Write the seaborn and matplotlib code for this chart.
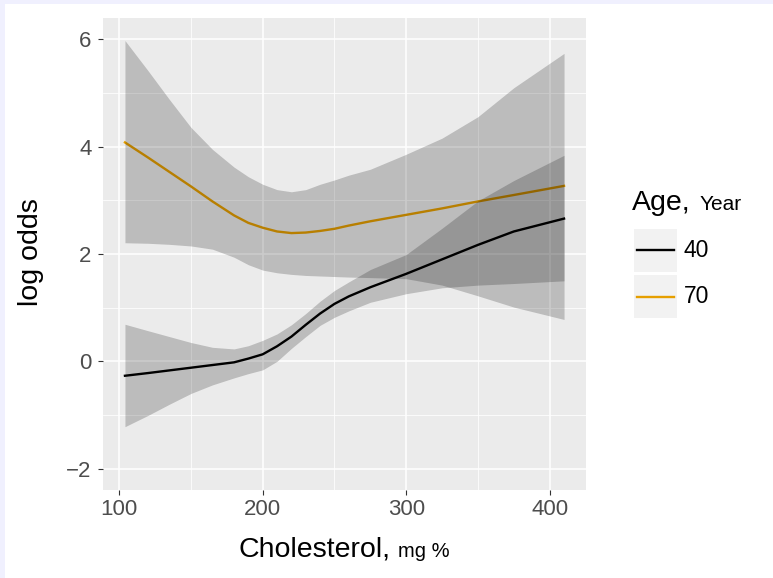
import numpy as np
import pandas as pd
import matplotlib
matplotlib.use("Agg")
import matplotlib.pyplot as plt
import seaborn as sns
from matplotlib.patches import Rectangle
from matplotlib.lines import Line2D

# ---- data ----
cholesterol = [104, 120, 135, 150, 165, 180, 190, 200, 210, 220, 230, 240,
               250, 260, 275, 300, 325, 350, 375, 410]
fit_40 = [-0.27, -0.22, -0.17, -0.12, -0.07, -0.02, 0.05, 0.13, 0.28, 0.46,
          0.68, 0.89, 1.07, 1.21, 1.38, 1.63, 1.90, 2.17, 2.42, 2.66]
upper_40 = [0.69, 0.57, 0.46, 0.35, 0.26, 0.23, 0.29, 0.39, 0.51, 0.68,
            0.89, 1.12, 1.32, 1.48, 1.71, 1.99, 2.48, 2.99, 3.37, 3.84]
lower_40 = [-1.22, -1.01, -0.80, -0.60, -0.44, -0.31, -0.23, -0.16, 0.00, 0.24,
            0.46, 0.67, 0.82, 0.94, 1.10, 1.26, 1.37, 1.42, 1.45, 1.50]
fit_70 = [4.08, 3.80, 3.53, 3.26, 2.98, 2.72, 2.58, 2.49, 2.42, 2.39,
          2.40, 2.43, 2.47, 2.53, 2.61, 2.73, 2.85, 2.98, 3.10, 3.27]
upper_70 = [5.98, 5.42, 4.88, 4.36, 3.95, 3.62, 3.44, 3.30, 3.20, 3.16,
            3.20, 3.30, 3.38, 3.47, 3.58, 3.86, 4.16, 4.56, 5.10, 5.74]
lower_70 = [2.21, 2.20, 2.18, 2.15, 2.09, 1.94, 1.80, 1.70, 1.65, 1.62,
            1.60, 1.59, 1.58, 1.57, 1.56, 1.54, 1.42, 1.22, 1.01, 0.78]
ages = ["40", "70"]
age_colors = {"40": "#000000", "70": "#E69F00"}
x_ticks = [100, 200, 300, 400]
y_ticks = [-2, 0, 2, 4, 6]

df = pd.DataFrame({
    "chol": cholesterol * 2,
    "logodds": fit_40 + fit_70,
    "Age": ["40"] * len(cholesterol) + ["70"] * len(cholesterol),
})

# ---- figure ----
W, H = 773, 578
fig = plt.figure(figsize=(W / 100, H / 100), dpi=100)
fig.patch.set_facecolor("white")
FONT = ["Liberation Sans", "DejaVu Sans"]
plt.rcParams["font.family"] = FONT

def px(x, y):
    return x / W, 1 - y / H

# lavender screenshot border
border = "#F0F0FE"
fig.patches.append(Rectangle((0, 1 - 4 / H), 1, 4 / H, transform=fig.transFigure,
                             facecolor=border, edgecolor="none", zorder=0))
fig.patches.append(Rectangle((0, 0), 5 / W, 1, transform=fig.transFigure,
                             facecolor=border, edgecolor="none", zorder=0))

L, R, T, B = 103, 586, 18, 490
ax = fig.add_axes([L / W, 1 - B / H, (R - L) / W, (B - T) / H])
ax.set_facecolor("#EBEBEB")

sns.lineplot(data=df, x="chol", y="logodds", hue="Age", palette=age_colors,
             hue_order=ages, linewidth=1.7, legend=False, ax=ax, zorder=2,
             estimator=None, sort=True)
for ln in ax.lines:
    ln.set_solid_joinstyle("round")
ax.fill_between(cholesterol, lower_40, upper_40, color="black", alpha=0.2,
                linewidth=0, zorder=3)
ax.fill_between(cholesterol, lower_70, upper_70, color="black", alpha=0.2,
                linewidth=0, zorder=3)

ax.set_xlim(88.7, 425.3)
ax.set_ylim(-2.4, 6.4)
ax.set_xticks(x_ticks)
ax.set_yticks(y_ticks)
ax.set_xticks([150, 250, 350], minor=True)
ax.set_yticks([-1, 1, 3, 5], minor=True)
ax.set_yticklabels([str(v).replace("-", "\u2212") for v in y_ticks])
ax.set_xticklabels([str(v) for v in x_ticks])
ax.set_axisbelow(True)
ax.grid(which="major", color="white", linewidth=1.15)
ax.grid(which="minor", color="white", linewidth=0.55)
for s in ax.spines.values():
    s.set_visible(False)
ax.tick_params(which="major", length=3.6, width=0.8, color="#333333",
               labelcolor="#4D4D4D", labelsize=16)
ax.tick_params(axis="x", pad=3)
ax.tick_params(axis="y", pad=4.5)
ax.tick_params(which="minor", length=0)
ax.set_xlabel("")
ax.set_ylabel("")

# axis titles
fig.text(*px(391, 557), "Cholesterol,", ha="right", va="baseline", fontsize=20.5,
         color="black")
fig.text(*px(398, 557), "mg %", ha="left", va="baseline", fontsize=14.5,
         color="black")
fig.text(*px(31, 252), "log odds", ha="center", va="center", rotation=90,
         fontsize=20.5, color="black")

# legend
fig.text(*px(632, 210), "Age,", ha="left", va="baseline", fontsize=20.5)
fig.text(*px(700, 210), "Year", ha="left", va="baseline", fontsize=15)
key_tops = [229, 275]
for age, top in zip(ages, key_tops):
    x0, y0 = px(634, top + 43)
    fig.patches.append(Rectangle((x0, y0), 43 / W, 43 / H, transform=fig.transFigure,
                                 facecolor="#F2F2F2", edgecolor="none"))
    cy = top + 21.5
    fig.lines.append(Line2D([637 / W, 674 / W], [1 - cy / H, 1 - cy / H],
                            transform=fig.transFigure, color=age_colors[age],
                            linewidth=1.7))
    fig.text(*px(684, cy), age, ha="left", va="center", fontsize=16.5,
             color="black")

fig.savefig("out.png", dpi=100, facecolor="white")
